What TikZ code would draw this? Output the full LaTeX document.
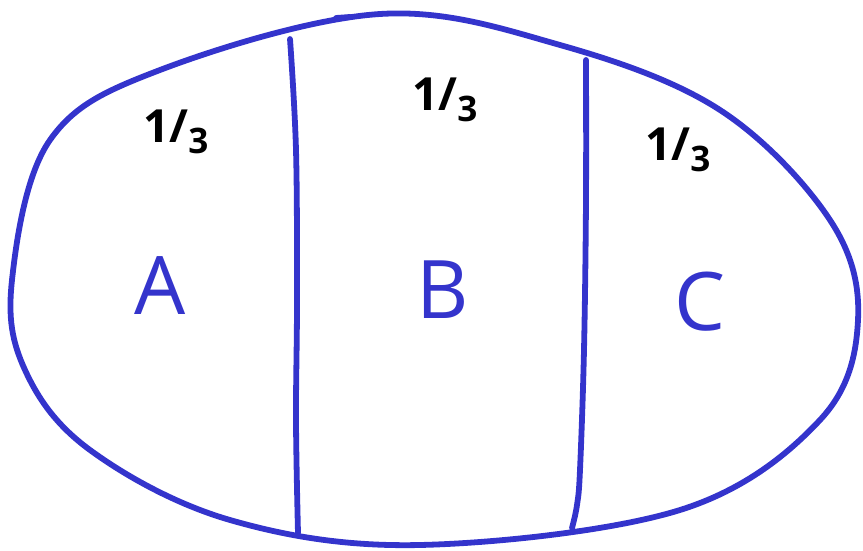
\documentclass[tikz,border=0pt]{standalone}
\usepackage{fontspec}
\setsansfont{Open Sans}
\usepackage{xcolor}
\usepackage{tikz}
\definecolor{penblue}{RGB}{52,52,204}

\begin{document}
\begin{tikzpicture}[
  x=0.02cm, y=-0.02cm,
  pen/.style={draw=penblue, line width=3.3pt, line cap=round, line join=round},
  part/.style={text=penblue, font=\sffamily\fontsize{46}{46}\selectfont, inner sep=0pt},
  share/.style={text=black, font=\sffamily\bfseries\fontsize{26}{26}\selectfont, inner sep=0pt}
]
  \useasboundingbox (0,0) rectangle (863,551);
  % outline of the whole
  \draw[pen] plot[smooth cycle, tension=0.6] coordinates {
    (12,280) (50,140) (160,70) (380,14) (560,45) (720,110)
    (830,220) (858,320) (820,420) (680,510) (420,545)
    (230,520) (90,450) (25,370)};
  \draw[pen] (336,18) -- (350,17);
  % dividing lines
  \draw[pen] plot[smooth, tension=0.6] coordinates {(290,39) (296,150) (297,300) (296,420) (298,533)};
  \draw[pen] plot[smooth, tension=0.6] coordinates {(586,60) (586,200) (584,350) (580,470) (577,505) (572,528)};
  % labels
  \node[part] (labA) at (160,286) {A};
  \node[part] (labB) at (443,290) {B};
  \node[part] (labC) at (700,302) {C};
  \node[share] (shA) at (176,132) {1/\raisebox{-0.45ex}{\fontsize{20}{20}\selectfont 3}};
  \node[share] (shB) at (445,100) {1/\raisebox{-0.45ex}{\fontsize{20}{20}\selectfont 3}};
  \node[share] (shC) at (678,150) {1/\raisebox{-0.45ex}{\fontsize{20}{20}\selectfont 3}};
\end{tikzpicture}
\end{document}
